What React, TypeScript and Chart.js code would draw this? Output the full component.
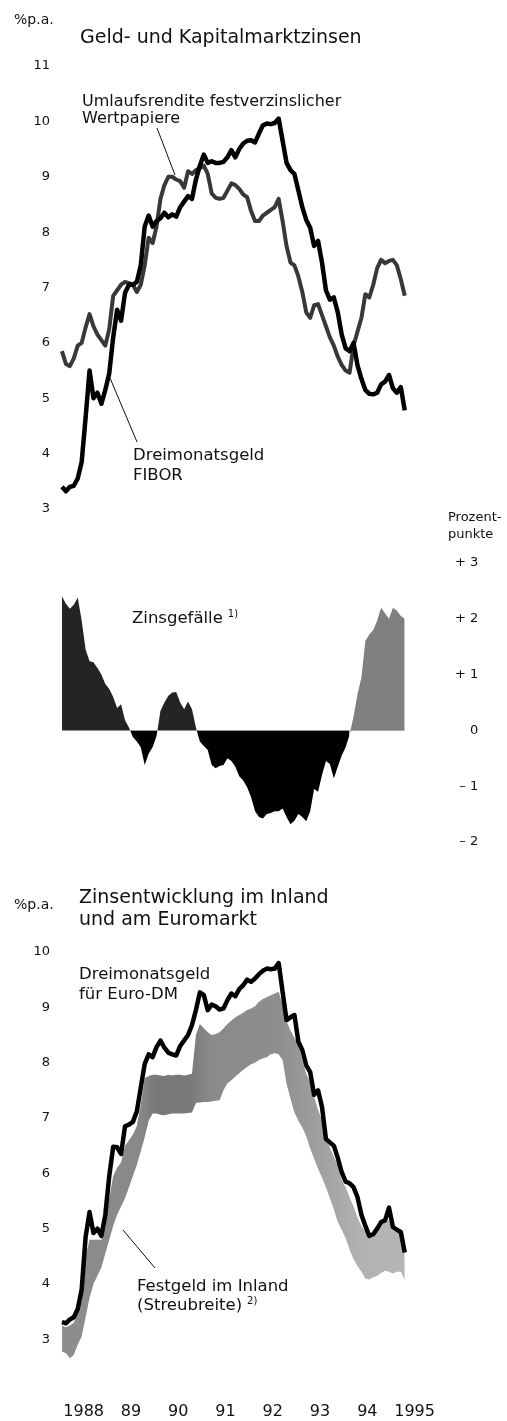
import React, { useEffect, useRef } from 'react';
import { Chart, registerables } from 'chart.js';

Chart.register(...registerables);

// Monthly values, January 1988 .. April 1995
const fibor = [
  3.40, 3.32, 3.40, 3.42, 3.55, 3.85, 4.65, 5.50, 5.00, 5.10, 4.90, 5.15,
  5.45, 6.10, 6.60, 6.40, 6.90, 7.05, 7.05, 7.10, 7.40, 8.10, 8.30, 8.10,
  8.20, 8.25, 8.35, 8.27, 8.32, 8.28, 8.45, 8.55, 8.65, 8.60, 8.95, 9.20,
  9.40, 9.25, 9.28, 9.25, 9.25, 9.27, 9.35, 9.48, 9.35, 9.50, 9.60, 9.65,
  9.66, 9.62, 9.78, 9.93, 9.96, 9.95, 9.97, 10.05, 9.65, 9.25, 9.12, 9.05,
  8.75, 8.45, 8.22, 8.08, 7.75, 7.84, 7.45, 6.95, 6.78, 6.82, 6.55, 6.15,
  5.90, 5.85, 6.00, 5.60, 5.35, 5.15, 5.08, 5.07, 5.10, 5.25, 5.30, 5.42,
  5.18, 5.10, 5.20, 4.78,
];

const umlaufsrendite = [
  5.85, 5.62, 5.58, 5.72, 5.95, 6.00, 6.28, 6.52, 6.30, 6.15, 6.05, 5.95,
  6.25, 6.85, 6.95, 7.05, 7.10, 7.08, 7.05, 6.92, 7.05, 7.40, 7.90, 7.80,
  8.10, 8.60, 8.85, 9.00, 9.00, 8.95, 8.92, 8.80, 9.10, 9.05, 9.12, 9.15,
  9.20, 9.05, 8.70, 8.62, 8.60, 8.62, 8.75, 8.88, 8.85, 8.78, 8.68, 8.63,
  8.38, 8.20, 8.20, 8.30, 8.35, 8.40, 8.45, 8.60, 8.20, 7.75, 7.45, 7.40,
  7.20, 6.92, 6.55, 6.45, 6.68, 6.70, 6.50, 6.30, 6.10, 5.95, 5.75, 5.60,
  5.50, 5.46, 5.95, 6.20, 6.45, 6.88, 6.82, 7.05, 7.35, 7.50, 7.44, 7.48,
  7.50, 7.40, 7.15, 6.85,
];

const zinsgefaelle = [
  2.40, 2.27, 2.18, 2.25, 2.38, 1.97, 1.45, 1.24, 1.22, 1.12, 1.00, 0.83,
  0.74, 0.60, 0.40, 0.47, 0.18, 0.05, -0.12, -0.20, -0.30, -0.62, -0.42, -0.30,
  -0.10, 0.35, 0.50, 0.62, 0.68, 0.69, 0.50, 0.38, 0.52, 0.38, 0.05, -0.20,
  -0.28, -0.35, -0.62, -0.68, -0.64, -0.62, -0.50, -0.55, -0.65, -0.82, -0.90, -1.02,
  -1.20, -1.45, -1.55, -1.58, -1.50, -1.48, -1.45, -1.45, -1.40, -1.55, -1.68, -1.62,
  -1.50, -1.55, -1.63, -1.45, -1.05, -1.10, -0.80, -0.55, -0.60, -0.86, -0.65, -0.45,
  -0.30, -0.08, 0.25, 0.65, 0.95, 1.60, 1.72, 1.80, 1.97, 2.20, 2.10, 2.00,
  2.20, 2.15, 2.05, 2.00,
];

const euroDM = [
  3.31, 3.29, 3.36, 3.40, 3.55, 3.90, 4.85, 5.30, 4.92, 5.00, 4.87, 5.25,
  5.95, 6.48, 6.47, 6.35, 6.85, 6.88, 6.93, 7.12, 7.55, 7.98, 8.15, 8.10,
  8.28, 8.40, 8.27, 8.18, 8.15, 8.13, 8.30, 8.40, 8.50, 8.68, 8.95, 9.27,
  9.22, 8.95, 9.05, 9.02, 8.96, 8.98, 9.13, 9.25, 9.20, 9.33, 9.40, 9.50,
  9.46, 9.52, 9.60, 9.66, 9.70, 9.69, 9.70, 9.80, 9.28, 8.77, 8.82, 8.86,
  8.38, 8.23, 7.95, 7.83, 7.42, 7.50, 7.20, 6.62, 6.56, 6.50, 6.28, 6.02,
  5.85, 5.82, 5.75, 5.57, 5.25, 5.05, 4.87, 4.90, 5.00, 5.12, 5.15, 5.38,
  5.03, 4.98, 4.94, 4.57,
];

const festgeldHoch = [
  3.25, 3.22, 3.25, 3.30, 3.50, 3.80, 4.50, 4.80, 4.80, 4.80, 4.80, 5.15,
  5.55, 5.95, 6.10, 6.20, 6.50, 6.60, 6.70, 6.85, 7.25, 7.72, 7.76, 7.78,
  7.78, 7.77, 7.76, 7.78, 7.77, 7.78, 7.78, 7.77, 7.78, 7.80, 8.50, 8.70,
  8.62, 8.55, 8.50, 8.52, 8.55, 8.62, 8.70, 8.76, 8.82, 8.86, 8.90, 8.95,
  8.98, 9.02, 9.10, 9.15, 9.18, 9.22, 9.25, 9.28, 9.05, 8.75, 8.58, 8.45,
  8.33, 8.05, 7.80, 7.65, 7.38, 7.15, 6.95, 6.70, 6.47, 6.30, 6.15, 5.88,
  5.75, 5.57, 5.40, 5.20, 5.05, 4.95, 4.87, 4.92, 4.97, 5.08, 5.12, 5.15,
  5.03, 4.95, 4.90, 4.80,
];

const festgeldTief = [
  2.78, 2.75, 2.66, 2.72, 2.90, 3.05, 3.40, 3.75, 4.00, 4.15, 4.30, 4.55,
  4.80, 5.05, 5.25, 5.40, 5.55, 5.75, 5.95, 6.15, 6.40, 6.65, 6.95, 7.08,
  7.08, 7.06, 7.05, 7.07, 7.08, 7.08, 7.08, 7.08, 7.09, 7.10, 7.27, 7.28,
  7.29, 7.29, 7.30, 7.31, 7.32, 7.50, 7.63, 7.68, 7.75, 7.81, 7.87, 7.92,
  7.97, 8.00, 8.05, 8.08, 8.10, 8.15, 8.17, 8.15, 8.05, 7.62, 7.35, 7.10,
  6.95, 6.83, 6.67, 6.45, 6.27, 6.08, 5.92, 5.75, 5.55, 5.35, 5.12, 4.98,
  4.83, 4.62, 4.45, 4.32, 4.22, 4.10, 4.08, 4.12, 4.15, 4.20, 4.24, 4.22,
  4.19, 4.22, 4.22, 4.07,
];

const yearLabels = ['1988', '89', '90', '91', '92', '93', '94', '1995'];
const yTicksTop = [3, 4, 5, 6, 7, 8, 9, 10, 11];
const yTicksSpread = [-2, -1, 0, 1, 2, 3];
const yTicksBottom = [3, 4, 5, 6, 7, 8, 9, 10];
const spreadSplitMonth = 73; // from here the positive spread is drawn in grey

// shading of the Festgeld band along the time axis (month index, colour)
const bandShades: [number, string][] = [
  [0, '#8e8e8e'],
  [20, '#888888'],
  [24, '#787878'],
  [32, '#787878'],
  [38, '#8a8a8a'],
  [55, '#8e8e8e'],
  [64, '#9e9e9e'],
  [76, '#b2b2b2'],
  [88, '#b6b6b6'],
];

const FONT = '"DejaVu Sans", "Open Sans", sans-serif';
const INK = '#111';

Chart.defaults.font.family = FONT;
Chart.defaults.color = INK;

const toXY = (arr: number[], from = 0, to = arr.length - 1) =>
  arr.slice(from, to + 1).map((y, i) => ({ x: from + i, y }));

const annotPlugin = {
  id: 'annot',
  afterDraw(chart: any, _args: any, opts: any) {
    const ctx = chart.ctx as CanvasRenderingContext2D;
    const off = opts.offsetY || 0;
    ctx.save();
    ctx.fillStyle = INK;
    ctx.strokeStyle = INK;
    (opts.lines || []).forEach((l: number[]) => {
      ctx.lineWidth = 1;
      ctx.beginPath();
      ctx.moveTo(l[0], l[1] - off);
      ctx.lineTo(l[2], l[3] - off);
      ctx.stroke();
    });
    (opts.texts || []).forEach((t: any) => {
      ctx.font = `${t.size}px ${FONT}`;
      ctx.textBaseline = 'alphabetic';
      ctx.textAlign = 'left';
      ctx.fillText(t.text, t.x, t.y - off);
      if (t.sup) {
        const w = ctx.measureText(t.text).width;
        ctx.font = `${Math.round(t.size * 0.62)}px ${FONT}`;
        ctx.fillText(t.sup, t.x + w + 5, t.y - off - t.size * 0.38);
      }
    });
    ctx.restore();
  },
};

const CH_LEFT = 60;
const CH_RIGHT_PAD = 507 - (60 + 96 * 3.94);

const xAxis = (display: boolean) => ({
  type: 'linear',
  min: -0.5,
  max: 95.5,
  display,
  grid: { display: false, drawTicks: false },
  border: { display: false },
});

const leftY = (min: number, max: number, ticks: number[]) => ({
  type: 'linear',
  position: 'left',
  min,
  max,
  grid: { display: false, drawTicks: false },
  border: { display: false },
  afterBuildTicks: (s: any) => {
    s.ticks = ticks.map((v) => ({ value: v }));
  },
  afterFit: (s: any) => {
    s.width = CH_LEFT;
  },
  ticks: { padding: 10, font: { size: 13 }, color: INK },
});

function configTop(top: number) {
  return {
    type: 'line',
    data: {
      datasets: [
        {
          label: 'Dreimonatsgeld FIBOR',
          data: toXY(fibor),
          borderColor: '#000',
          borderWidth: 4.5,
          pointRadius: 0,
          tension: 0,
          borderJoinStyle: 'round',
          fill: false,
        },
        {
          label: 'Umlaufsrendite festverzinslicher Wertpapiere',
          data: toXY(umlaufsrendite),
          borderColor: '#383838',
          borderWidth: 4,
          pointRadius: 0,
          tension: 0,
          borderJoinStyle: 'round',
          fill: false,
        },
      ],
    },
    options: {
      responsive: false,
      animation: false,
      devicePixelRatio: 1,
      layout: { padding: { top: 66 - top, bottom: 530 - 509, left: 0, right: CH_RIGHT_PAD } },
      scales: { x: xAxis(false), y: leftY(3, 11, yTicksTop) },
      plugins: {
        legend: { display: false },
        tooltip: { enabled: false },
        annot: {
          offsetY: top,
          texts: [
            { text: '%p.a.', x: 14, y: 24, size: 14 },
            { text: 'Geld- und Kapitalmarktzinsen', x: 80, y: 43, size: 19 },
            { text: 'Umlaufsrendite festverzinslicher', x: 82, y: 106, size: 16 },
            { text: 'Wertpapiere', x: 82, y: 123, size: 16 },
            { text: 'Dreimonatsgeld', x: 133, y: 460, size: 16.5 },
            { text: 'FIBOR', x: 133, y: 480, size: 16.5 },
          ],
          lines: [
            [157, 128, 175, 175],
            [110, 378, 137, 442],
          ],
        },
      },
    },
    plugins: [annotPlugin],
  };
}

function configSpread(top: number, height: number) {
  return {
    type: 'line',
    data: {
      datasets: [
        {
          label: 'Zinsgefälle',
          data: toXY(zinsgefaelle, 0, spreadSplitMonth),
          borderColor: 'rgba(0,0,0,0)',
          borderWidth: 1,
          pointRadius: 0,
          tension: 0,
          fill: { target: 'origin', above: '#242424', below: '#000' },
        },
        {
          label: 'Zinsgefälle (1994/95)',
          data: toXY(zinsgefaelle, spreadSplitMonth),
          borderColor: 'rgba(0,0,0,0)',
          borderWidth: 1,
          pointRadius: 0,
          tension: 0,
          fill: { target: 'origin', above: '#808080', below: '#000' },
        },
      ],
    },
    options: {
      responsive: false,
      animation: false,
      devicePixelRatio: 1,
      layout: { padding: { top: 563 - top, bottom: top + height - 842, left: CH_LEFT, right: CH_RIGHT_PAD - 40 } },
      scales: {
        x: xAxis(false),
        y: {
          type: 'linear',
          position: 'right',
          min: -2,
          max: 3,
          grid: { display: false, drawTicks: false },
          border: { display: false },
          afterBuildTicks: (s: any) => {
            s.ticks = yTicksSpread.map((v) => ({ value: v }));
          },
          afterFit: (s: any) => {
            s.width = 40;
          },
          ticks: {
            crossAlign: 'far',
            font: { size: 13 },
            color: INK,
            callback: (v: number) => (v > 0 ? '+ ' + v : v < 0 ? '– ' + Math.abs(v) : '0'),
          },
        },
      },
      plugins: {
        legend: { display: false },
        tooltip: { enabled: false },
        annot: {
          offsetY: top,
          texts: [
            { text: 'Prozent-', x: 448, y: 521, size: 13 },
            { text: 'punkte', x: 448, y: 538, size: 13 },
            { text: 'Zinsgefälle', x: 132, y: 623, size: 16.5, sup: '1)' },
          ],
          lines: [],
        },
      },
    },
    plugins: [annotPlugin],
  };
}

function bandFill(context: any) {
  const chart = context.chart;
  const area = chart.chartArea;
  if (!area) return '#9a9a9a';
  const xs = chart.scales.x;
  const g = chart.ctx.createLinearGradient(area.left, 0, area.right, 0);
  const w = area.right - area.left;
  bandShades.forEach(([m, c]) => {
    const f = Math.min(1, Math.max(0, (xs.getPixelForValue(m) - area.left) / w));
    g.addColorStop(f, c);
  });
  return g;
}

function configBottom(top: number, height: number) {
  const x = {
    ...xAxis(true),
    afterBuildTicks: (s: any) => {
      s.ticks = yearLabels.map((_, i) => ({ value: i * 12 + 5.5 }));
    },
    afterFit: (s: any) => {
      s.height = 54;
    },
    ticks: {
      autoSkip: false,
      maxRotation: 0,
      padding: 35.5,
      font: { size: 16 },
      color: INK,
      callback: (_v: number, i: number) => yearLabels[i],
    },
  };
  return {
    type: 'line',
    data: {
      datasets: [
        {
          label: 'Dreimonatsgeld für Euro-DM',
          data: toXY(euroDM),
          borderColor: '#000',
          borderWidth: 4.5,
          pointRadius: 0,
          tension: 0,
          borderJoinStyle: 'round',
          fill: false,
        },
        {
          label: 'Festgeld im Inland (Streubreite) – oben',
          data: toXY(festgeldHoch),
          borderColor: 'rgba(0,0,0,0)',
          borderWidth: 1,
          pointRadius: 0,
          tension: 0,
          backgroundColor: bandFill,
          fill: '+1',
        },
        {
          label: 'Festgeld im Inland (Streubreite) – unten',
          data: toXY(festgeldTief),
          borderColor: 'rgba(0,0,0,0)',
          borderWidth: 1,
          pointRadius: 0,
          tension: 0,
          fill: false,
        },
      ],
    },
    options: {
      responsive: false,
      animation: false,
      devicePixelRatio: 1,
      layout: { padding: { top: 952 - top, bottom: 0, left: 0, right: CH_RIGHT_PAD } },
      scales: { x, y: leftY(2.5, 10, yTicksBottom) },
      plugins: {
        legend: { display: false },
        tooltip: { enabled: false },
        annot: {
          offsetY: top,
          texts: [
            { text: '%p.a.', x: 14, y: 909, size: 14 },
            { text: 'Zinsentwicklung im Inland', x: 79, y: 903, size: 19 },
            { text: 'und am Euromarkt', x: 79, y: 925, size: 19 },
            { text: 'Dreimonatsgeld', x: 79, y: 979, size: 16.5 },
            { text: 'für Euro-DM', x: 79, y: 999, size: 16.5 },
            { text: 'Festgeld im Inland', x: 137, y: 1291, size: 16.5 },
            { text: '(Streubreite)', x: 137, y: 1310, size: 16.5, sup: '2)' },
          ],
          lines: [[123, 1230, 155, 1268]],
        },
      },
    },
    plugins: [annotPlugin],
  };
}

function ChartCanvas({ top, height, make }: { top: number; height: number; make: () => any }) {
  const ref = useRef<HTMLCanvasElement | null>(null);
  useEffect(() => {
    if (!ref.current) return;
    const chart = new Chart(ref.current, make());
    return () => chart.destroy();
  }, []);
  return (
    <canvas
      ref={ref}
      width={507}
      height={height}
      style={{ position: 'absolute', left: 0, top, width: 507, height, display: 'block' }}
    />
  );
}

export default function App() {
  return (
    <div
      style={{
        position: 'absolute',
        left: 0,
        top: 0,
        width: 507,
        height: 1421,
        background: '#fff',
        overflow: 'hidden',
      }}
    >
      <ChartCanvas top={0} height={530} make={() => configTop(0)} />
      <ChartCanvas top={500} height={370} make={() => configSpread(500, 370)} />
      <ChartCanvas top={860} height={561} make={() => configBottom(860, 561)} />
    </div>
  );
}
